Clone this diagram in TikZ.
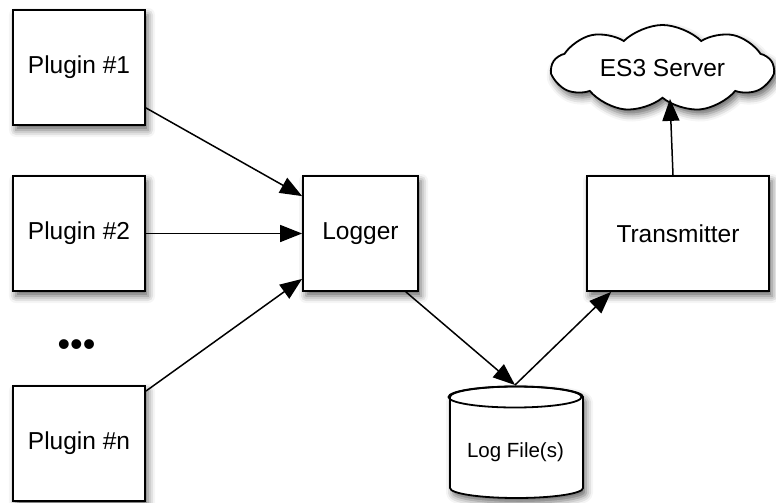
\documentclass[tikz,border=0pt]{standalone}
\usepackage{fontspec}
\setmainfont{Liberation Sans}
\usetikzlibrary{arrows.meta,shapes.symbols,shadows.blur}
\begin{document}
\begin{tikzpicture}[x=1pt,y=-1pt,
  shad/.style={blur shadow={shadow xshift=3pt,shadow yshift=-5pt,shadow blur radius=7pt,shadow opacity=60}},
  box/.style={draw=black,line width=1.8pt,fill=white,shad,inner sep=0pt,
    font=\fontsize{24.5}{28}\selectfont},
  conn/.style={draw=black,line width=1.5pt,-{Triangle[length=22pt,width=17pt,fill=black]}}]
\useasboundingbox (0,0) rectangle (776,503);
\node[box,minimum width=132pt,minimum height=115pt] (p1) at (79,67.5) {Plugin \#1};
\node[box,minimum width=132pt,minimum height=115pt] (p2) at (79,233.5) {Plugin \#2};
\node[box,minimum width=132pt,minimum height=115pt] (pn) at (79,443.5) {Plugin \#n};
\node[font=\fontsize{36}{40}\selectfont] (dots) at (76.5,348) {•••};
\node[box,minimum width=115pt,minimum height=115pt] (logger) at (360.5,233.5) {Logger};
\node[box,minimum width=182pt,minimum height=115pt] (trans) at (678,233.5) {Transmitter};
\node[box,cloud,cloud ignores aspect,cloud puffs=9,cloud puff arc=90,minimum width=221pt,minimum height=87pt] (cloud) at (662.5,68.5) {ES3 Server};
% cylinder
\path[fill=white,shad] (450,397) -- (450,488) arc[start angle=180,end angle=360,x radius=66.5pt,y radius=10pt] -- (583,397) arc[start angle=0,end angle=180,x radius=66.5pt,y radius=10.5pt] -- cycle;
\draw[line width=1.8pt,fill=white] (450,397) -- (450,488) arc[start angle=180,end angle=360,x radius=66.5pt,y radius=10pt] -- (583,397) arc[start angle=0,end angle=180,x radius=66.5pt,y radius=10.5pt] -- cycle;
\draw[line width=1.8pt] (515,397) ellipse[x radius=66.5pt,y radius=10.5pt];
\node[font=\fontsize{20.5}{24}\selectfont] (logfile) at (515.5,452) {Log File(s)};
\coordinate (cyltop) at (515,385);
% connectors
\draw[conn] ([yshift=18pt]p1.south east) -- ([yshift=-21pt]logger.north west);
\draw[conn] (p2.east) -- (logger.west);
\draw[conn] ([yshift=-6pt]pn.north east) -- ([yshift=13pt]logger.south west);
\draw[conn] ([xshift=-13pt]logger.south east) -- (cyltop);
\draw[conn] (cyltop) -- ([xshift=25pt]trans.south west);
\draw[conn] ([xshift=-5pt]trans.north) -- ([xshift=7.5pt]cloud.south);
\end{tikzpicture}
\end{document}
